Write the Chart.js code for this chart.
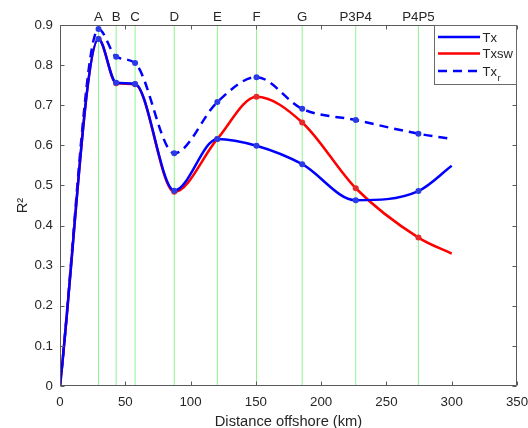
<!DOCTYPE html>
<html>
<head>
<meta charset="utf-8">
<script src="https://cdn.jsdelivr.net/npm/chart.js@4.4.1/dist/chart.umd.min.js"></script>
<style>
  html, body { margin: 0; padding: 0; background: #ffffff; }
  canvas { display: block; }
</style>
</head>
<body>
<canvas id="c" width="528" height="428"></canvas>
<script>
// ---- data ----
const siteNames = ['A', 'B', 'C', 'D', 'E', 'F', 'G', 'P3P4', 'P4P5'];
const siteKm = [29.5, 43, 57.5, 87.5, 120.5, 150.5, 185.5, 226.5, 274.5];
const distanceKm = [0, 29.5, 43, 57.5, 87.5, 120.5, 150.5, 185.5, 226.5, 274.5, 300];
const txR2   = [0, 0.865, 0.756, 0.753, 0.487, 0.616, 0.599, 0.553, 0.463, 0.486, 0.549];
const txswR2 = [0, 0.865, 0.755, 0.752, 0.484, 0.616, 0.721, 0.657, 0.493, 0.370, 0.330];
const txrR2  = [0, 0.890, 0.821, 0.805, 0.580, 0.708, 0.770, 0.691, 0.663, 0.629, 0.616];
const xTicks = [0, 50, 100, 150, 200, 250, 300, 350];
const yTicks = [0, 0.1, 0.2, 0.3, 0.4, 0.5, 0.6, 0.7, 0.8, 0.9];
const legendLabels = [['Tx', ''], ['Txsw', ''], ['Tx', 'r']];

const FONT = "'Liberation Sans', Arial, Helvetica, sans-serif";
const TXT = '#262626';
const AXC = '#5a5a5a';

function pts(ys) { return distanceKm.map((x, i) => ({ x: x, y: ys[i] })); }
const markerRadius = distanceKm.map((x, i) => (i === 0 || i === distanceKm.length - 1) ? 0 : 3);

function fixHorizontal(height) {
  return s => { s.height = height; s.paddingLeft = 0; s.paddingRight = 0; };
}

const siteLines = {
  id: 'siteLines',
  beforeDatasetsDraw(chart) {
    const { ctx, chartArea } = chart;
    const xs = chart.scales.x;
    ctx.save();
    ctx.strokeStyle = '#8cf58c';
    ctx.lineWidth = 1;
    siteKm.forEach(v => {
      const px = xs.getPixelForValue(v);
      ctx.beginPath();
      ctx.moveTo(px, chartArea.top);
      ctx.lineTo(px, chartArea.bottom);
      ctx.stroke();
    });
    ctx.restore();
  }
};

const axesBox = {
  id: 'axesBox',
  afterDatasetsDraw(chart) {
    const { ctx, chartArea: a } = chart;
    const xs = chart.scales.x, ys = chart.scales.y;
    ctx.save();
    ctx.strokeStyle = AXC;
    ctx.lineWidth = 1;
    const L = Math.round(a.left) + 0.5, R = Math.round(a.right) - 0.5;
    const T = Math.round(a.top) + 0.5, B = Math.round(a.bottom) - 0.5;
    ctx.beginPath();
    ctx.rect(L, T, R - L, B - T);
    ctx.stroke();
    const tl = 4;
    ctx.beginPath();
    xTicks.forEach(v => {
      const px = Math.round(xs.getPixelForValue(v)) + 0.5;
      ctx.moveTo(px, B); ctx.lineTo(px, B - tl);
      ctx.moveTo(px, T); ctx.lineTo(px, T + tl);
    });
    yTicks.forEach(v => {
      const py = Math.round(ys.getPixelForValue(v)) + 0.5;
      ctx.moveTo(L, py); ctx.lineTo(L + tl, py);
      ctx.moveTo(R, py); ctx.lineTo(R - tl, py);
    });
    ctx.stroke();
    ctx.restore();
  }
};

const legendBox = {
  id: 'legendBox',
  afterDraw(chart) {
    const { ctx, chartArea: a } = chart;
    const x0 = 434.5, y0 = Math.round(a.top) + 0.5, x1 = Math.round(a.right) - 0.5, y1 = 84.5;
    ctx.save();
    ctx.fillStyle = '#ffffff';
    ctx.fillRect(x0, y0, x1 - x0, y1 - y0);
    ctx.strokeStyle = '#6a6a6a';
    ctx.lineWidth = 1;
    ctx.strokeRect(x0, y0, x1 - x0, y1 - y0);
    const rows = [37, 53.5, 71];
    chart.data.datasets.forEach((ds, i) => {
      const y = rows[i];
      ctx.strokeStyle = ds.borderColor;
      ctx.lineWidth = ds.borderWidth;
      ctx.setLineDash(ds.borderDash || []);
      ctx.beginPath();
      ctx.moveTo(438, y);
      ctx.lineTo(480, y);
      ctx.stroke();
      ctx.setLineDash([]);
      ctx.fillStyle = TXT;
      ctx.font = '13px ' + FONT;
      ctx.textBaseline = 'alphabetic';
      ctx.textAlign = 'left';
      const main = legendLabels[i][0], sub = legendLabels[i][1];
      ctx.fillText(main, 482.5, y + 4.7);
      if (sub) {
        const w = ctx.measureText(main).width;
        ctx.font = '9.5px ' + FONT;
        ctx.fillText(sub, 482.5 + w + 0.5, y + 10);
      }
    });
    ctx.restore();
  }
};

new Chart(document.getElementById('c'), {
  type: 'line',
  data: {
    datasets: [
      {
        label: 'Tx', data: pts(txR2),
        borderColor: '#0000ff', backgroundColor: '#0000ff',
        borderWidth: 2.5, pointRadius: markerRadius, pointBorderWidth: 0,
        pointBackgroundColor: '#2a3be6',
        cubicInterpolationMode: 'monotone', fill: false
      },
      {
        label: 'Txsw', data: pts(txswR2),
        borderColor: '#ff0000', backgroundColor: '#ff0000',
        borderWidth: 2.5, pointRadius: markerRadius, pointBorderWidth: 0,
        pointBackgroundColor: '#e62a2a',
        cubicInterpolationMode: 'monotone', fill: false
      },
      {
        label: 'Txr', data: pts(txrR2),
        borderColor: '#0000ff', backgroundColor: '#0000ff',
        borderWidth: 2.5, borderDash: [9, 6], pointRadius: markerRadius, pointBorderWidth: 0,
        pointBackgroundColor: '#2a3be6',
        cubicInterpolationMode: 'monotone', fill: false
      }
    ]
  },
  options: {
    responsive: false,
    animation: false,
    devicePixelRatio: 1,
    layout: { padding: { left: 0, right: 11, top: 0, bottom: 0 } },
    plugins: { legend: { display: false }, tooltip: { enabled: false } },
    scales: {
      x: {
        type: 'linear', position: 'bottom', min: 0, max: 350,
        afterBuildTicks: s => { s.ticks = xTicks.map(v => ({ value: v })); },
        afterFit: fixHorizontal(42),
        grid: { display: false, drawTicks: false },
        border: { display: false },
        ticks: { color: TXT, padding: 8, maxRotation: 0, autoSkip: false, font: { family: FONT, size: 13.3 } },
        title: { display: true, text: 'Distance offshore (km)', color: TXT, padding: { top: 0, bottom: -3 }, font: { family: FONT, size: 14.7 } }
      },
      xTop: {
        type: 'linear', position: 'top', min: 0, max: 350,
        afterBuildTicks: s => { s.ticks = siteKm.map(v => ({ value: v })); },
        afterFit: fixHorizontal(25),
        grid: { display: false, drawTicks: false },
        border: { display: false },
        ticks: {
          color: TXT, padding: 0, maxRotation: 0, minRotation: 0, autoSkip: false,
          font: { family: FONT, size: 13.3 },
          callback: (v, i) => siteNames[i]
        }
      },
      y: {
        type: 'linear', position: 'left', min: 0, max: 0.9,
        afterBuildTicks: s => { s.ticks = yTicks.map(v => ({ value: v })); },
        afterFit: s => { s.width = 60; s.paddingTop = 0; s.paddingBottom = 0; },
        grid: { display: false, drawTicks: false },
        border: { display: false },
        ticks: { color: TXT, padding: 7, autoSkip: false, font: { family: FONT, size: 13.3 }, callback: v => String(+v.toFixed(1)) },
        title: { display: true, text: 'R²', color: TXT, padding: { top: 14, bottom: 0 }, font: { family: FONT, size: 14.7 } }
      }
    }
  },
  plugins: [siteLines, axesBox, legendBox]
});
</script>
</body>
</html>
